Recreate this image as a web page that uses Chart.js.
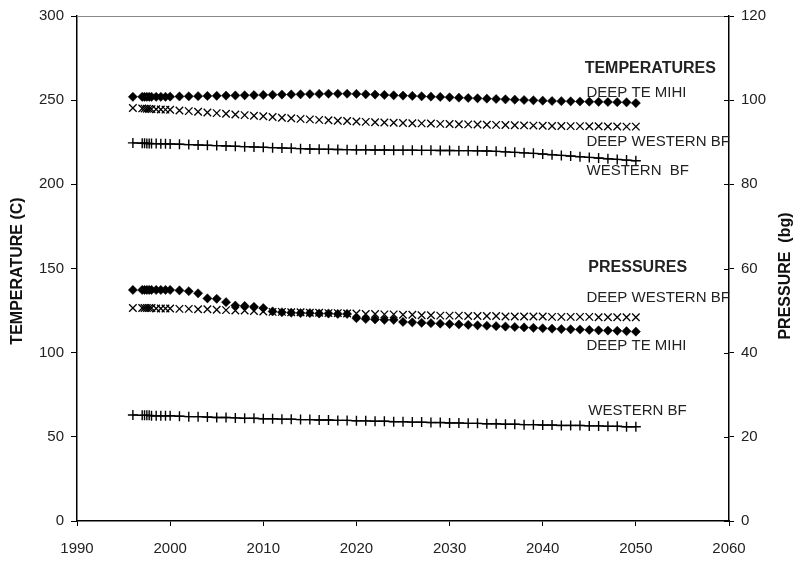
<!DOCTYPE html>
<html>
<head>
<meta charset="utf-8">
<script src="https://cdn.jsdelivr.net/npm/chart.js@4/dist/chart.umd.min.js"></script>
<style>
  html, body { margin: 0; padding: 0; background: #fff; }
  #chart { display: block; }
</style>
</head>
<body>
<canvas id="chart" width="793" height="561"></canvas>
<script>
// time axis (years), denser sampling at the start
const years = [1996, 1997, 1997.25, 1997.5, 1997.75, 1998, 1998.5, 1999, 1999.5, 2000,
  2001, 2002, 2003, 2004, 2005, 2006, 2007, 2008, 2009, 2010,
  2011, 2012, 2013, 2014, 2015, 2016, 2017, 2018, 2019, 2020,
  2021, 2022, 2023, 2024, 2025, 2026, 2027, 2028, 2029, 2030,
  2031, 2032, 2033, 2034, 2035, 2036, 2037, 2038, 2039, 2040,
  2041, 2042, 2043, 2044, 2045, 2046, 2047, 2048, 2049, 2050];

// temperatures (C)
const tempDeepTeMihi = [252, 252, 252, 252, 252, 252, 252, 252, 252, 252.1,
  252.2, 252.3, 252.4, 252.5, 252.6, 252.7, 252.8, 252.9, 253, 253.1,
  253.2, 253.3, 253.4, 253.5, 253.6, 253.7, 253.8, 253.8, 253.8, 253.7,
  253.5, 253.3, 253.1, 252.9, 252.7, 252.5, 252.3, 252.1, 251.9, 251.7,
  251.5, 251.3, 251.1, 250.9, 250.7, 250.5, 250.3, 250.1, 249.9, 249.7,
  249.5, 249.4, 249.3, 249.2, 249.1, 249, 248.9, 248.8, 248.7, 248.3];
const tempDeepWestern = [245.3, 245.1, 245, 244.9, 244.8, 244.7, 244.6, 244.5, 244.4, 244.3,
  243.9, 243.5, 243.1, 242.7, 242.3, 241.9, 241.5, 241.1, 240.7, 240.4,
  240, 239.6, 239.3, 238.9, 238.6, 238.3, 238.1, 237.8, 237.6, 237.3,
  237.1, 236.9, 236.7, 236.6, 236.4, 236.3, 236.2, 236.1, 235.9, 235.8,
  235.7, 235.6, 235.5, 235.4, 235.3, 235.2, 235.1, 235, 234.9, 234.8,
  234.7, 234.7, 234.6, 234.6, 234.5, 234.5, 234.4, 234.4, 234.3, 234.3];
const tempWestern = [224.6, 224.4, 224.4, 224.3, 224.3, 224.2, 224.2, 224.1, 224.1, 224,
  223.8, 223.6, 223.4, 223.2, 223, 222.8, 222.6, 222.4, 222.2, 222,
  221.8, 221.6, 221.4, 221.2, 221, 220.9, 220.8, 220.7, 220.6, 220.5,
  220.5, 220.4, 220.4, 220.3, 220.3, 220.3, 220.2, 220.2, 220.1, 220.1,
  220, 220, 219.9, 219.8, 219.6, 219.3, 219, 218.7, 218.4, 218,
  217.6, 217.2, 216.8, 216.4, 216, 215.6, 215.2, 214.8, 214.4, 214];

// pressures (bg)
const presDeepTeMihi = [54.9, 54.9, 54.9, 54.9, 54.9, 54.9, 54.9, 54.9, 54.9, 54.9,
  54.8, 54.6, 54.1, 52.9, 52.8, 52, 51.2, 51.1, 50.9, 50.6,
  49.8, 49.6, 49.5, 49.4, 49.4, 49.3, 49.3, 49.2, 49.2, 48.2,
  48, 47.9, 47.8, 47.8, 47.3, 47.2, 47.1, 47, 46.9, 46.8,
  46.7, 46.6, 46.5, 46.4, 46.3, 46.2, 46.1, 46, 45.9, 45.8,
  45.7, 45.6, 45.55, 45.5, 45.4, 45.3, 45.25, 45.2, 45.1, 45];
const presDeepWestern = [50.6, 50.6, 50.6, 50.6, 50.6, 50.6, 50.5, 50.5, 50.5, 50.5,
  50.4, 50.4, 50.3, 50.3, 50.2, 50.1, 50, 50, 49.9, 49.8,
  49.7, 49.7, 49.6, 49.6, 49.5, 49.5, 49.4, 49.4, 49.3, 49.3,
  49.2, 49.2, 49.1, 49.1, 49, 49, 48.9, 48.9, 48.8, 48.8,
  48.8, 48.7, 48.7, 48.7, 48.7, 48.6, 48.6, 48.6, 48.6, 48.6,
  48.5, 48.5, 48.5, 48.5, 48.5, 48.4, 48.4, 48.4, 48.4, 48.4];
const presWestern = [25.2, 25.1, 25.1, 25.1, 25.1, 25, 25, 25, 25, 25,
  24.9, 24.8, 24.8, 24.7, 24.6, 24.6, 24.5, 24.4, 24.4, 24.3,
  24.3, 24.2, 24.2, 24.1, 24.1, 24, 24, 23.9, 23.9, 23.8,
  23.8, 23.7, 23.7, 23.6, 23.6, 23.5, 23.5, 23.4, 23.4, 23.3,
  23.3, 23.2, 23.2, 23.1, 23.1, 23, 23, 22.9, 22.9, 22.8,
  22.8, 22.7, 22.7, 22.7, 22.6, 22.6, 22.5, 22.5, 22.4, 22.4];

// axis ranges / ticks
const xTicks = [1990, 2000, 2010, 2020, 2030, 2040, 2050, 2060];
const tempTicks = [0, 50, 100, 150, 200, 250, 300];
const presTicks = [0, 20, 40, 60, 80, 100, 120];

// text notes placed in data units (year, temperature scale)
const notes = [
  { text: "TEMPERATURES", x: 2044.5, y: 269, bold: true },
  { text: "DEEP TE MIHI", x: 2044.7, y: 254.5, bold: false },
  { text: "DEEP WESTERN BF", x: 2044.7, y: 225.5, bold: false },
  { text: "WESTERN  BF", x: 2044.7, y: 208, bold: false },
  { text: "PRESSURES", x: 2044.9, y: 150.3, bold: true },
  { text: "DEEP WESTERN BF", x: 2044.7, y: 132.5, bold: false },
  { text: "DEEP TE MIHI", x: 2044.7, y: 104, bold: false },
  { text: "WESTERN BF", x: 2044.9, y: 65.5, bold: false }
];

const FONT = "'Liberation Sans', Arial, sans-serif";

function pts(vals) {
  return years.map((yr, i) => ({ x: yr, y: vals[i] }));
}

function diamonds(label, vals, axis) {
  return { label: label, data: pts(vals), yAxisID: axis, showLine: false,
    pointStyle: "rectRot", pointRadius: 4.6, backgroundColor: "#000", borderColor: "#000",
    pointBorderWidth: 0.5 };
}
function xMarks(label, vals, axis) {
  return { label: label, data: pts(vals), yAxisID: axis, showLine: false,
    pointStyle: "crossRot", pointRadius: 5.3, borderColor: "#000", backgroundColor: "#000",
    pointBorderWidth: 1.3 };
}
function plusMarks(label, vals, axis) {
  return { label: label, data: pts(vals), yAxisID: axis, showLine: true,
    pointStyle: "cross", pointRadius: 5, borderColor: "#000", backgroundColor: "#000",
    borderWidth: 1.3, pointBorderWidth: 1.4, tension: 0 };
}

// gray top border, inner right ticks, rotated titles and notes
const decorations = {
  id: "decorations",
  afterDraw(chart) {
    const ctx = chart.ctx;
    const a = chart.chartArea;
    const sx = chart.scales.x, sy = chart.scales.y, sp = chart.scales.y2;
    ctx.save();
    ctx.strokeStyle = "#888";
    ctx.lineWidth = 1;
    ctx.beginPath();
    ctx.moveTo(a.left, a.top + 0.5);
    ctx.lineTo(a.right, a.top + 0.5);
    ctx.stroke();

    ctx.strokeStyle = "#000";
    ctx.beginPath();
    presTicks.forEach(v => {
      const py = Math.round(sp.getPixelForValue(v)) + 0.5;
      ctx.moveTo(a.right - 5, py);
      ctx.lineTo(a.right, py);
    });
    ctx.stroke();

    ctx.fillStyle = "#111";
    ctx.font = "bold 16px " + FONT;
    ctx.textAlign = "center";
    ctx.textBaseline = "middle";
    ctx.save();
    ctx.translate(18, 271);
    ctx.rotate(-Math.PI / 2);
    ctx.fillText("TEMPERATURE (C)", 0, 0);
    ctx.restore();
    ctx.save();
    ctx.translate(786, 276);
    ctx.rotate(-Math.PI / 2);
    ctx.fillText("PRESSURE  (bg)", 0, 0);
    ctx.restore();

    ctx.textAlign = "left";
    notes.forEach(n => {
      ctx.font = (n.bold ? "bold 16px " : "15px ") + FONT;
      ctx.fillStyle = "#222";
      ctx.fillText(n.text, sx.getPixelForValue(n.x), sy.getPixelForValue(n.y));
    });
    ctx.restore();
  }
};

const tickFont = { family: FONT, size: 15 };
const plain = v => String(v);

function renderChart() {
  const ctx = document.getElementById("chart").getContext("2d");
  new Chart(ctx, {
    type: "scatter",
    data: {
      datasets: [
        diamonds("DEEP TE MIHI temperature", tempDeepTeMihi, "y"),
        xMarks("DEEP WESTERN BF temperature", tempDeepWestern, "y"),
        plusMarks("WESTERN BF temperature", tempWestern, "y"),
        diamonds("DEEP TE MIHI pressure", presDeepTeMihi, "y2"),
        xMarks("DEEP WESTERN BF pressure", presDeepWestern, "y2"),
        plusMarks("WESTERN BF pressure", presWestern, "y2")
      ]
    },
    options: {
      responsive: false,
      animation: false,
      devicePixelRatio: 1,
      layout: { padding: { top: 16, left: 0, right: 0, bottom: 0 } },
      plugins: { legend: { display: false }, tooltip: { enabled: false } },
      scales: {
        x: {
          type: "linear", min: xTicks[0], max: xTicks[xTicks.length - 1],
          afterBuildTicks: s => { s.ticks = xTicks.map(v => ({ value: v })); },
          afterFit: s => { s.height = 40; },
          grid: { drawOnChartArea: false, tickLength: 5, color: "#000" },
          border: { color: "#000", width: 1.5 },
          ticks: { color: "#222", font: tickFont, padding: 14, maxRotation: 0, callback: plain }
        },
        y: {
          position: "left", min: 0, max: 300,
          afterBuildTicks: s => { s.ticks = tempTicks.map(v => ({ value: v })); },
          afterFit: s => { s.width = 77; },
          grid: { drawOnChartArea: false, tickLength: 6, color: "#000" },
          border: { color: "#000", width: 1.5 },
          ticks: { color: "#222", font: tickFont, padding: 7, callback: plain }
        },
        y2: {
          position: "right", min: 0, max: 120,
          afterBuildTicks: s => { s.ticks = presTicks.map(v => ({ value: v })); },
          afterFit: s => { s.width = 64; },
          grid: { drawOnChartArea: false, tickLength: 5, color: "#000" },
          border: { color: "#000", width: 1.5 },
          ticks: { color: "#222", font: tickFont, padding: 7, callback: plain }
        }
      }
    },
    plugins: [decorations]
  });
}

document.addEventListener("DOMContentLoaded", renderChart);
</script>
</body>
</html>
